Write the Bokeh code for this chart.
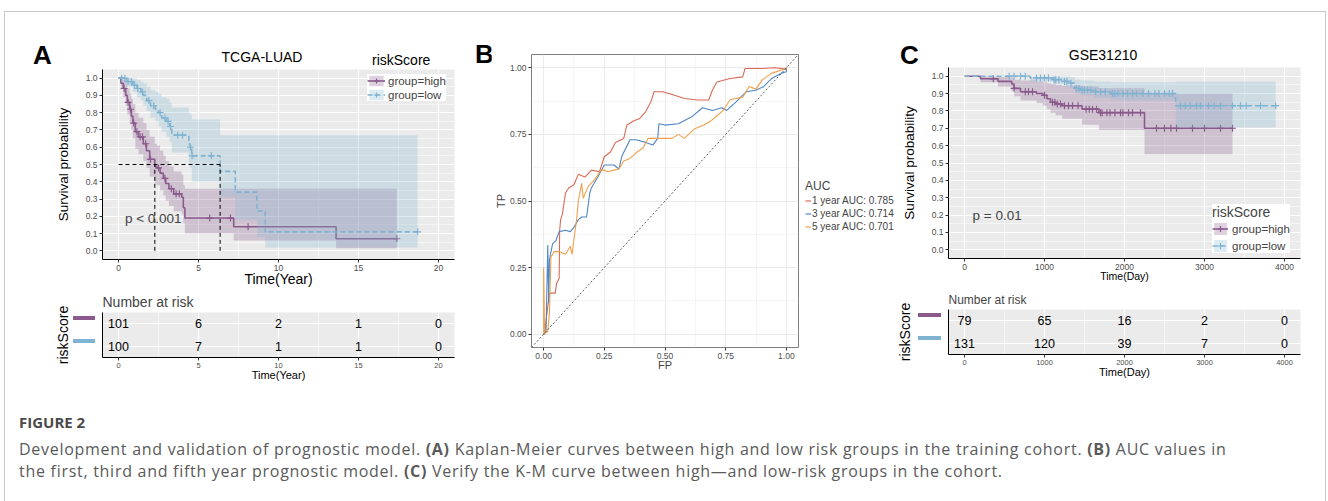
import numpy as np
from bokeh.plotting import figure
from bokeh.models import (Range1d, FixedTicker, PrintfTickFormatter, Label, Legend,
                          LegendItem, Slope, Div)
from bokeh.layouts import row, column
from bokeh.embed import file_html
from bokeh.resources import INLINE
from bokeh.core.properties import value

FONT = "Liberation Sans"
HI_COL = "#8A5A8C"
LO_COL = "#80B3D2"
PANEL_BG = "#EBEBEB"

# ---------------- data: TCGA-LUAD (years) ----------------
tcga_hi_time = [0, .15, .3, .45, .55, .7, .8, .9, 1.05, 1.25, 1.55, 1.75, 1.95, 2.27, 2.4, 2.6, 2.8, 2.95, 3.15, 3.45, 3.95, 4.05, 4.15, 7.2, 13.6, 17.4]
tcga_hi_surv = [1, .97, .94, .90, .86, .82, .78, .74, .69, .66, .62, .58, .53, .49, .48, .45, .42, .39, .36, .33, .31, .25, .19, .14, .07, .07]
tcga_hi_upper = [1, 1.0, .99, .97, .94, .91, .88, .85, .80, .77, .74, .70, .66, .62, .61, .58, .55, .52, .49, .46, .44, .38, .36, .36, .36, .36]
tcga_hi_lower = [1, .94, .89, .84, .79, .74, .70, .65, .59, .56, .52, .48, .43, .39, .38, .35, .32, .29, .26, .23, .21, .16, .10, .06, .015, .015]
tcga_hi_cens = [0.35, 0.6, 0.75, 0.95, 1.15, 1.35, 1.5, 1.7, 2.0, 2.5, 2.9, 3.3, 3.6, 3.8, 5.7, 7.0, 8.1, 17.4]

tcga_lo_time = [0, .5, .9, 1.15, 1.4, 1.56, 1.77, 2.0, 2.3, 2.5, 2.7, 3.0, 3.2, 3.33, 4.4, 4.48, 4.58, 6.35, 7.3, 8.65, 9.17, 18.7]
tcga_lo_surv = [1, .98, .96, .94, .92, .90, .87, .84, .82, .80, .77, .75, .72, .67, .62, .60, .55, .46, .34, .23, .11, .11]
tcga_lo_upper = [1, 1, 1, .99, .98, .97, .95, .93, .92, .91, .89, .88, .86, .83, .80, .79, .76, .67, .67, .67, .67, .67]
tcga_lo_lower = [1, .95, .92, .89, .87, .84, .81, .77, .75, .72, .69, .66, .63, .57, .50, .48, .40, .31, .18, .08, .02, .02]
tcga_lo_cens = [0.2, 0.4, 0.6, 0.8, 1.0, 1.2, 1.5, 1.9, 2.2, 2.6, 2.9, 3.1, 3.25, 3.7, 4.0, 4.5, 4.6, 5.8, 18.7]

tcga_risk_times = [0, 5, 10, 15, 20]
tcga_risk_hi = [101, 6, 2, 1, 0]
tcga_risk_lo = [100, 7, 1, 1, 0]
tcga_pval = "p < 0.001"

# ---------------- data: GSE31210 (days) ----------------
gse_hi_time = [0, 200, 420, 590, 620, 700, 900, 980, 1030, 1075, 1140, 1220, 1470, 1680, 2250, 3350]
gse_hi_surv = [1, .985, .97, .955, .93, .91, .90, .89, .87, .85, .84, .83, .81, .79, .70, .70]
gse_hi_upper = [1, 1, .995, .99, .98, .975, .97, .965, .96, .955, .95, .945, .94, .93, .90, .90]
gse_hi_lower = [1, .965, .94, .915, .885, .86, .845, .83, .81, .79, .775, .755, .72, .69, .55, .55]
gse_hi_cens = [360, 620, 760, 800, 850, 1000, 1100, 1130, 1160, 1200, 1250, 1300, 1350, 1420, 1520, 1560, 1600, 1650,
               1700, 1720, 1780, 1820, 1880, 1950, 1980, 2050, 2100, 2200, 2400, 2500, 2580, 2650, 2850, 3000, 3200, 3350]

gse_lo_time = [0, 820, 1110, 1250, 1320, 1380, 1450, 1620, 1830, 2640, 3890]
gse_lo_surv = [1, .99, .98, .97, .96, .93, .92, .91, .90, .83, .83]
gse_lo_upper = [1, 1, 1, 1, .995, .98, .975, .97, .965, .97, .97]
gse_lo_lower = [1, .97, .955, .94, .93, .90, .89, .875, .86, .705, .705]
gse_lo_cens = [560, 620, 700, 760, 900, 950, 1000, 1050, 1120, 1140, 1180, 1250, 1280, 1330, 1400, 1430, 1470, 1500,
               1540, 1580, 1640, 1700, 1760, 1850, 1880, 1920, 1980, 2040, 2100, 2150, 2230, 2300, 2380, 2430, 2500,
               2560, 2600, 2700, 2760, 2820, 2900, 2950, 3050, 3120, 3200, 3350, 3450, 3520, 3700, 3890]

gse_risk_times = [0, 1000, 2000, 3000, 4000]
gse_risk_hi = [79, 65, 16, 2, 0]
gse_risk_lo = [131, 120, 39, 7, 0]
gse_pval = "p = 0.01"

group_labels = ["group=high", "group=low"]
risk_rows = [1, 0]
surv_ticks = [0.0, 0.1, 0.2, 0.3, 0.4, 0.5, 0.6, 0.7, 0.8, 0.9, 1.0]
surv_minor = [0.05, 0.15, 0.25, 0.35, 0.45, 0.55, 0.65, 0.75, 0.85, 0.95]

# ---------------- data: ROC ----------------
roc_fp_1 = [0, .004, .010, .024, .048, .053, .064, .066, .070, .077, .090, .104, .124, .143, .170, .197, .230, .250, .276, .296,
            .330, .343, .370, .396, .420, .442, .455, .490, .530, .580, .635, .680, .695, .714, .768, .820, .830, .900, .953, 1.0, 1.0]
roc_tp_1 = [0, 0, .05, .154, .154, .19, .21, .39, .43, .45, .53, .55, .56, .60, .59, .616, .61, .666, .685, .72,
            .735, .785, .80, .81, .835, .873, .91, .91, .90, .885, .879, .879, .916, .947, .96, .966, .9975, .9975, 1.0, .995, 1.0]
roc_fp_3 = [0, .010, .017, .021, .024, .037, .050, .064, .090, .110, .124, .143, .157, .177, .190, .197, .223, .250, .290, .310,
            .323, .356, .380, .420, .450, .470, .475, .500, .555, .610, .655, .695, .734, .754, .794, .834, .874, .907, .940, .980, 1.0, 1.0]
roc_tp_3 = [0, .01, .335, .116, .28, .34, .35, .385, .39, .385, .40, .43, .44, .44, .53, .55, .59, .635, .635, .62,
            .67, .73, .73, .72, .71, .735, .79, .785, .79, .816, .85, .84, .85, .84, .873, .91, .916, .93, .96, .98, .985, 1.0]
roc_fp_5 = [0, 0.0, .004, .017, .024, .030, .044, .064, .090, .110, .117, .130, .137, .143, .157, .163, .183, .210, .236, .250,
            .263, .290, .310, .330, .356, .380, .410, .430, .475, .530, .555, .580, .620, .660, .688, .714, .740, .768, .820, .847,
            .874, .900, .940, 1.0, 1.0]
roc_tp_5 = [0, .25, .004, .01, .08, .29, .31, .31, .30, .33, .30, .39, .44, .50, .566, .51, .554, .58, .616, .616,
            .61, .616, .62, .65, .66, .68, .70, .735, .735, .735, .75, .735, .77, .785, .80, .82, .84, .88, .89, .93,
            .92, .954, .98, .9975, 1.0]
roc_years = [1, 3, 5]
roc_auc = [0.785, 0.714, 0.701]
roc_colors = ["#DA6A55", "#4F86C6", "#F0A04B"]
roc_ticks = [0.0, 0.25, 0.5, 0.75, 1.0]


class Geo:
    """frame geometry (page pixels) of one figure"""
    def __init__(self, left, top, w, h, xr, yr):
        self.left, self.top, self.w, self.h, self.xr, self.yr = left, top, w, h, xr, yr

    def py(self, yv):
        return self.top + self.h - (yv - self.yr[0]) / (self.yr[1] - self.yr[0]) * self.h


def make_fig(w, h, xr, yr, mb, title=None):
    p = figure(width=w, height=h, x_range=Range1d(*xr), y_range=Range1d(*yr), title=title,
               output_backend="svg", toolbar_location=None,
               min_border_left=mb[0], min_border_right=mb[1], min_border_top=mb[2], min_border_bottom=mb[3])
    p.outline_line_color = None
    p.border_fill_color = "white"
    return p


def span(x, y, text, size, align="left", bold=False, rotate=False, color="black"):
    tx = "-50%" if align == "center" else "0"
    rot = " rotate(-90deg)" if rotate else ""
    return (f'<span style="position:absolute; left:{x}px; top:{y}px; transform:translate({tx},-50%){rot}; '
            f'font-family:\'{FONT}\'; font-size:{size}; font-weight:{700 if bold else 400}; color:{color}; '
            f'white-space:nowrap; line-height:1;">{text}</span>')


def bar(x0, x1, yc, color, thick=4):
    return (f'<div style="position:absolute; left:{x0}px; top:{yc - thick / 2}px; width:{x1 - x0}px; '
            f'height:{thick}px; background:{color};"></div>')


def text_div(w, h, parts):
    return Div(width=w, height=h, margin=(0, 0, 0, 0),
               text=f'<div style="position:relative; width:{w}px; height:{h}px;">{"".join(parts)}</div>')


def gg_axes(p, tick_size="8.5px", label_size="14px"):
    for ax in (p.xaxis[0], p.yaxis[0]):
        ax.axis_line_color = "black"
        ax.axis_line_width = 1
        ax.major_tick_line_color = "#333333"
        ax.major_tick_out = 3
        ax.major_tick_in = 0
        ax.minor_tick_line_color = None
        ax.major_label_text_font = FONT
        ax.major_label_text_font_size = tick_size
        ax.major_label_text_color = "#4D4D4D"
        ax.major_label_standoff = 1
        ax.axis_label_text_font = FONT
        ax.axis_label_text_font_style = "normal"
        ax.axis_label_text_color = "black"
        ax.axis_label_text_font_size = label_size
        ax.axis_label_standoff = 0


def gray_grid(p):
    for g in (p.xgrid[0], p.ygrid[0]):
        g.grid_line_color = "white"
        g.grid_line_width = 1.0
        g.minor_grid_line_color = "white"
        g.minor_grid_line_width = 0.5


def step_at(times, surv, ct):
    idx = np.searchsorted(np.asarray(times), np.asarray(ct), side="right") - 1
    return list(np.asarray(surv)[idx])


def style_legend(leg, label_size, title_size):
    leg.background_fill_color = "white"
    leg.background_fill_alpha = 1
    leg.border_line_color = None
    leg.margin = 0
    leg.label_text_font = FONT
    leg.label_text_font_size = label_size
    leg.title_text_font = FONT
    leg.title_text_font_style = "normal"
    leg.title_text_font_size = title_size


def km_panel(w, h, xr, mb, xticks, xminor, xlabel, xlabel_size, groups, pval, pval_xy,
             legend_loc, legend_title):
    p = make_fig(w, h, xr, (-0.05, 1.05), mb)
    p.background_fill_color = PANEL_BG
    gray_grid(p)
    gg_axes(p, "8.5px", "14px")
    p.xaxis.ticker = FixedTicker(ticks=xticks, minor_ticks=xminor)
    p.yaxis.ticker = FixedTicker(ticks=surv_ticks, minor_ticks=surv_minor)
    p.yaxis.formatter = PrintfTickFormatter(format="%.1f")
    p.xaxis.axis_label = xlabel
    p.xaxis.axis_label_text_font_size = xlabel_size
    p.xaxis.axis_label_standoff = -3
    p.yaxis.axis_label = "Survival probability"
    p.yaxis.axis_label_text_font_size = "13.5px"
    p.yaxis.axis_label_standoff = 12

    items = []
    for (t, s, up, lo, cens, col, dash), lab in zip(groups, group_labels):
        band = p.varea_step(x=t, y1=lo, y2=up, step_mode="after", fill_color=col, fill_alpha=0.28)
        line = p.step(x=t, y=s, mode="after", line_color=col, line_width=1.6, line_dash=dash)
        mk = p.scatter(x=cens, y=step_at(t, s, cens), marker="cross", size=7, line_color=col, line_width=1.2)
        items.append(LegendItem(label=lab, renderers=[band, line, mk]))

    leg = Legend(items=items, location=legend_loc, orientation="vertical")
    if legend_title:
        leg.title = legend_title
    style_legend(leg, "11.5px", "14px")
    p.add_layout(leg)
    p.add_layout(Label(x=pval_xy[0], y=pval_xy[1], text=pval, text_font=FONT, text_font_size="13.5px",
                       text_align="left", text_baseline="middle"))
    return p


def risk_panel(w, h, xr, mb, xticks, xminor, xlabel, times, hi, lo, title_size):
    p = make_fig(w, h, xr, (-0.5, 1.5), mb, title="Number at risk")
    p.background_fill_color = PANEL_BG
    gray_grid(p)
    gg_axes(p, "7.5px", "11px")
    p.xaxis.ticker = FixedTicker(ticks=xticks, minor_ticks=xminor)
    p.xaxis.axis_label_standoff = -2
    p.yaxis.ticker = FixedTicker(ticks=[])
    p.ygrid.ticker = FixedTicker(ticks=risk_rows)
    p.yaxis.major_tick_out = 0
    p.yaxis.major_label_standoff = 0
    p.yaxis.major_label_text_font_size = "0px"
    p.xaxis.axis_label = xlabel
    p.title.align = "left"
    p.title.text_font = FONT
    p.title.text_font_style = "normal"
    p.title.text_font_size = title_size
    p.title.standoff = 5
    for yy, counts in zip(risk_rows, (hi, lo)):
        p.text(x=times, y=[yy] * len(times), text=[str(v) for v in counts], text_align="center",
               text_baseline="middle", text_font=value(FONT), text_font_size="12.5px", text_color="black")
    return p


def risk_key_div(w, h, top, geo, label_x, bar_x):
    mid = (geo.py(-0.5) + geo.py(1.5)) / 2 - top
    parts = [span(label_x, mid, "riskScore", "14px", align="center", rotate=True)]
    for r, col in zip(risk_rows, (HI_COL, LO_COL)):
        parts.append(bar(bar_x[0], bar_x[1], geo.py(r) - top - 5, col))
    return text_div(w, h, parts)


# ================= panel A (page x 0..466) =================
headA = text_div(466, 68, [span(33, 55, "A", "26px", bold=True),
                           span(262, 57, "TCGA-LUAD", "14px", align="center"),
                           span(372, 60, "riskScore", "14px")])
tcga_groups = [
    (tcga_hi_time, tcga_hi_surv, tcga_hi_upper, tcga_hi_lower, tcga_hi_cens, HI_COL, "solid"),
    (tcga_lo_time, tcga_lo_surv, tcga_lo_upper, tcga_lo_lower, tcga_lo_cens, LO_COL, "5 3"),
]
pA = km_panel(466, 221, (-1, 21), (102, 12, 1, 30), tcga_risk_times, [2.5, 7.5, 12.5, 17.5],
              "Time(Year)", "14px", tcga_groups, tcga_pval, (0.4, 0.19), (265, 158), None)
legA = pA.legend[0]
legA.padding = 2
legA.spacing = 1
legA.glyph_width = 18
legA.glyph_height = 13
legA.label_height = 13
legA.label_standoff = 3
med_hi = tcga_hi_time[next(i for i, v in enumerate(tcga_hi_surv) if v <= 0.5)]
med_lo = tcga_lo_time[next(i for i, v in enumerate(tcga_lo_surv) if v <= 0.5)]
pA.segment(x0=[0, med_hi, med_lo], y0=[0.5, 0, 0], x1=[max(med_hi, med_lo), med_hi, med_lo], y1=[0.5, 0.5, 0.5],
           line_color="black", line_dash="4 3", line_width=1)

gAr = Geo(102, 312, 352, 45, (-1, 21), (-0.5, 1.5))
keyA = risk_key_div(100, 96, 289, gAr, 63, (73, 95))
pAr = risk_panel(366, 96, (-1, 21), (2, 12, 23, 28), tcga_risk_times, [2.5, 7.5, 12.5, 17.5], "Time(Year)",
                 tcga_risk_times, tcga_risk_hi, tcga_risk_lo, "14px")
colA = column(headA, pA, row(keyA, pAr))

# ================= panel B (page x 466..896) =================
leftB = text_div(25, 385, [span(9, 54, "B", "26px", bold=True)])

pB = make_fig(309, 385, (-0.05, 1.05), (-0.05, 1.05), (32, 2, 54, 38))
pB.background_fill_color = "white"
pB.outline_line_color = "#7F7F7F"
pB.outline_line_width = 1
for g in (pB.xgrid[0], pB.ygrid[0]):
    g.grid_line_color = "#EBEBEB"
    g.grid_line_width = 1
    g.minor_grid_line_color = "#EFEFEF"
    g.minor_grid_line_width = 0.6
for ax in (pB.xaxis[0], pB.yaxis[0]):
    ax.axis_line_color = None
    ax.major_tick_line_color = "#333333"
    ax.major_tick_out = 3
    ax.major_tick_in = 0
    ax.minor_tick_line_color = None
    ax.major_label_text_font = FONT
    ax.major_label_text_font_size = "8.5px"
    ax.major_label_text_color = "#4D4D4D"
    ax.major_label_standoff = 1
    ax.axis_label_text_font = FONT
    ax.axis_label_text_font_style = "normal"
    ax.axis_label_text_font_size = "11px"
    ax.ticker = FixedTicker(ticks=roc_ticks, minor_ticks=[0.125, 0.375, 0.625, 0.875])
    ax.formatter = PrintfTickFormatter(format="%.2f")
pB.xaxis.axis_label = "FP"
pB.yaxis.axis_label = "TP"
pB.xaxis.axis_label_standoff = -3
pB.yaxis.axis_label_standoff = 0
pB.add_layout(Slope(gradient=1, y_intercept=0, line_color="#333333", line_dash="2 2", line_width=0.8))
for fp, tp, col in zip((roc_fp_1, roc_fp_3, roc_fp_5), (roc_tp_1, roc_tp_3, roc_tp_5), roc_colors):
    pB.line(x=fp, y=tp, line_color=col, line_width=1.1)

# legend strip to the right of the ROC frame (keys use the ROC line colours)
legS = figure(width=96, height=385, x_range=Range1d(0, 1), y_range=Range1d(0, 1),
              output_backend="svg", toolbar_location=None, x_axis_location=None, y_axis_location=None,
              min_border_left=0, min_border_right=0, min_border_top=54, min_border_bottom=38)
legS.grid.visible = False
legS.outline_line_color = None
roc_items = []
for col, yr, auc in zip(roc_colors, roc_years, roc_auc):
    r = legS.line(x=[2, 3], y=[2, 3], line_color=col, line_width=1.2)
    roc_items.append(LegendItem(label=f"{yr} year AUC: {auc:.3f}", renderers=[r]))
legB = Legend(items=roc_items, title="AUC", location=(5, 114))
style_legend(legB, "10px", "12px")
legB.background_fill_alpha = 0
legB.padding = 0
legB.spacing = 0
legB.glyph_width = 6
legB.glyph_height = 13
legB.label_height = 13
legB.label_standoff = 1
legB.title_standoff = 1
legS.add_layout(legB)
colB = row(leftB, pB, legS)

# ================= panel C (page x 896..1320) =================
headC = text_div(424, 66, [span(4, 55, "C", "26px", bold=True),
                           span(207, 55, "GSE31210", "14px", align="center")])
gse_groups = [
    (gse_hi_time, gse_hi_surv, gse_hi_upper, gse_hi_lower, gse_hi_cens, HI_COL, "solid"),
    (gse_lo_time, gse_lo_surv, gse_lo_upper, gse_lo_lower, gse_lo_cens, LO_COL, "5 3"),
]
pC = km_panel(424, 221, (-200, 4200), (52, 20, 1, 29), gse_risk_times, [500, 1500, 2500, 3500],
              "Time(Day)", "10.5px", gse_groups, gse_pval, (100, 0.2), (264, 5), "riskScore")
legC = pC.legend[0]
legC.padding = 4
legC.spacing = 2
legC.glyph_width = 16
legC.glyph_height = 15
legC.label_height = 15
legC.label_standoff = 4
legC.title_standoff = 1

gCr = Geo(948, 309, 352, 45, (-200, 4200), (-0.5, 1.5))
keyC = risk_key_div(50, 98, 287, gCr, 9, (22, 45))
pCr = risk_panel(374, 98, (-200, 4200), (2, 20, 22, 31), gse_risk_times, [500, 1500, 2500, 3500], "Time(Day)",
                 gse_risk_times, gse_risk_hi, gse_risk_lo, "12px")
colC = column(headC, pC, row(keyC, pCr))

caption = Div(width=1320, height=110, margin=(0, 0, 0, 0), text=(
    '<div style="position:fixed; left:4px; top:11px; width:1322px; height:600px; border:1px solid #C8C8C8;"></div>'
    '<div style="font-family:\'Open Sans\'; color:#5A5A5A; padding-left:19px; padding-top:27px; white-space:nowrap;">'
    '<div style="font-weight:700; font-size:15px; color:#4A4A4A;">FIGURE 2</div>'
    '<div style="font-size:16px; letter-spacing:0.72px; line-height:22px; margin-top:5px;">'
    'Development and validation of prognostic model. <b>(A)</b> Kaplan-Meier curves between high and low risk groups '
    'in the training cohort. <b>(B)</b> AUC values in<br>the first, third and fifth year prognostic model. '
    '<b>(C)</b> Verify the K-M curve between high\u2014and low-risk groups in the cohort.</div></div>'))

layout = column(row(colA, colB, colC), caption)
open("out.html", "w").write(file_html(layout, INLINE))
